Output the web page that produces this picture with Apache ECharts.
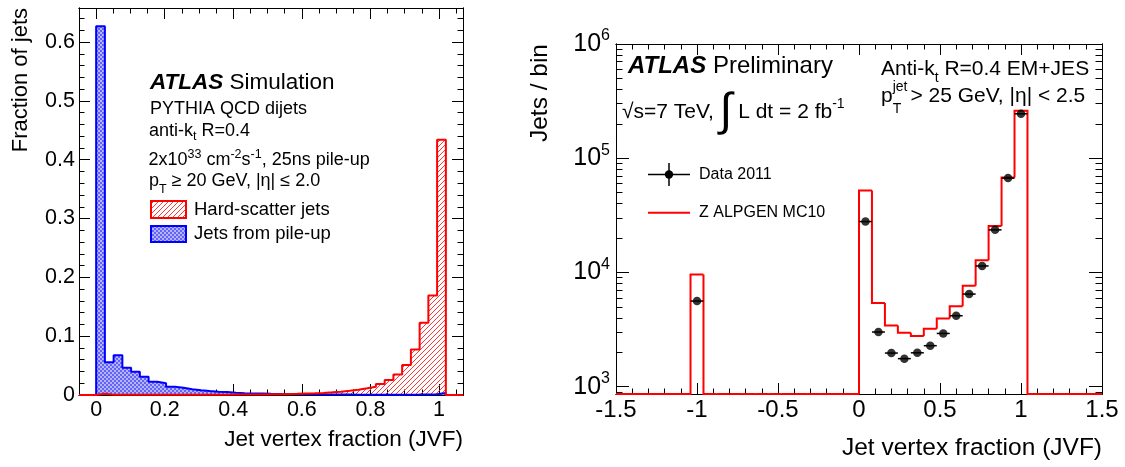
<!DOCTYPE html>
<html><head><meta charset="utf-8">
<script src="https://cdn.jsdelivr.net/npm/echarts@6/dist/echarts.min.js"></script>
<style>html,body{margin:0;padding:0;background:#fff}#c{width:1125px;height:467px}</style>
</head><body><div id="c"></div>
<script>
// ---------------- Left panel data: fraction of jets per JVF bin ----------------
const L_BIN_LO = 0;          // first bin low edge
const L_BIN_W = 0.0255;      // bin width (40 bins, 0 .. 1.02)
const L_PILEUP = [0.627, 0.0555, 0.0674, 0.0464, 0.0396, 0.031, 0.0226, 0.0198, 0.0141, 0.0124,
  0.0096, 0.008, 0.0068, 0.0057, 0.005, 0.004, 0.0031, 0.0027, 0.0024, 0.0021,
  0.0019, 0.0017, 0.0015, 0.0013, 0.0011, 0.001, 0.0009, 0.0008, 0.0007, 0.0006,
  0.0006, 0.0005, 0.0005, 0.0005, 0.0005, 0.0006, 0.0007, 0.0009, 0.0014, 0.0035];
const L_HARD = [0.0022, 0.0003, 0.0003, 0.0003, 0.0003, 0.0003, 0.0003, 0.0003, 0.0003, 0.0003,
  0.0003, 0.0004, 0.0005, 0.0005, 0.0006, 0.0007, 0.0008, 0.0009, 0.001, 0.0012,
  0.0014, 0.0017, 0.002, 0.0025, 0.003, 0.0036, 0.0045, 0.0057, 0.0073, 0.009,
  0.0113, 0.0141, 0.0187, 0.0255, 0.035, 0.051, 0.0775, 0.123, 0.169, 0.434];
const L_X_RANGE = [-0.05, 1.07];
const L_Y_RANGE = [0, 0.658];
const L_X_MAJOR = [0, 0.2, 0.4, 0.6, 0.8, 1];
const L_X_MINOR = [0.05, 0.1, 0.15, 0.25, 0.3, 0.35, 0.45, 0.5, 0.55, 0.65, 0.7, 0.75, 0.85, 0.9, 0.95, 1.05];
const L_Y_MAJOR = [0, 0.1, 0.2, 0.3, 0.4, 0.5, 0.6];
const L_Y_MINOR = [0.02, 0.04, 0.06, 0.08, 0.12, 0.14, 0.16, 0.18, 0.22, 0.24, 0.26, 0.28, 0.32, 0.34, 0.36, 0.38,
  0.42, 0.44, 0.46, 0.48, 0.52, 0.54, 0.56, 0.58, 0.62, 0.64];

// ---------------- Right panel data: jets per bin ----------------
const R_BIN_LO = -1.04;      // 26 bins of 0.08 from -1.04 to 1.04
const R_BIN_W = 0.08;
const R_MC = [9600, 0, 0, 0, 0, 0, 0, 0, 0, 0, 0, 0, 0,
  52100, 5400, 3440, 2970, 2775, 3215, 3960, 5050, 7650, 12800, 25500, 67800, 260000];
const R_DATA = [5620, 0, 0, 0, 0, 0, 0, 0, 0, 0, 0, 0, 0,
  27900, 3010, 1970, 1760, 1980, 2285, 2925, 4180, 6470, 11400, 23600, 67000, 245000];
const R_X_RANGE = [-1.5, 1.5];
const R_Y_RANGE = [863, 1e6];
const R_X_MAJOR = [-1.5, -1, -0.5, 0, 0.5, 1, 1.5];
const R_X_MINOR = [-1.4, -1.3, -1.2, -1.1, -0.9, -0.8, -0.7, -0.6, -0.4, -0.3, -0.2, -0.1,
  0.1, 0.2, 0.3, 0.4, 0.6, 0.7, 0.8, 0.9, 1.1, 1.2, 1.3, 1.4];
const R_Y_MAJOR = [1e3, 1e4, 1e5, 1e6];
const R_Y_MINOR = [900, 2e3, 3e3, 4e3, 5e3, 6e3, 7e3, 8e3, 9e3, 2e4, 3e4, 4e4, 5e4, 6e4, 7e4, 8e4, 9e4,
  2e5, 3e5, 4e5, 5e5, 6e5, 7e5, 8e5, 9e5];

// ---------------- styling helpers ----------------
const FONT = '"Liberation Sans", Arial, Helvetica, sans-serif';

function hatchPattern() {
  const c = document.createElement('canvas'); c.width = 5; c.height = 5;
  const g = c.getContext('2d');
  g.strokeStyle = '#ff2020'; g.lineWidth = 0.9;
  g.beginPath();
  g.moveTo(0, 5); g.lineTo(5, 0);
  g.moveTo(-1, 1); g.lineTo(1, -1);
  g.moveTo(4, 6); g.lineTo(6, 4);
  g.stroke();
  return { image: c, repeat: 'repeat' };
}
function checkPattern() {
  const c = document.createElement('canvas'); c.width = 4; c.height = 4;
  const g = c.getContext('2d');
  g.fillStyle = '#6464f4'; g.fillRect(0, 0, 4, 4);
  g.fillStyle = '#b4b4ff'; g.fillRect(0, 0, 2, 2); g.fillRect(2, 2, 2, 2);
  return { image: c, repeat: 'repeat' };
}
const RED_FILL = hatchPattern();
const BLUE_FILL = checkPattern();

function stepData(vals, lo, w, range) {
  const d = [[range[0], 0]];
  vals.forEach((v, i) => d.push([lo + i * w, v]));
  d.push([lo + vals.length * w, 0]);
  d.push([range[1], 0]);
  return d;
}

function axis(gridIndex, position, type, range, ticks, len, label) {
  const a = {
    type: type, gridIndex: gridIndex, position: position, min: range[0], max: range[1],
    axisLine: { show: true, onZero: false, lineStyle: { color: '#000', width: 1 } },
    axisTick: { show: true, inside: true, length: len, customValues: ticks, lineStyle: { color: '#000', width: 1 } },
    axisLabel: label ? Object.assign({ customValues: ticks, color: '#000', fontFamily: FONT }, label) : { show: false },
    splitLine: { show: false }, minorTick: { show: false }, minorSplitLine: { show: false },
    axisPointer: { show: false }
  };
  if (type === 'log') a.logBase = 10;
  return a;
}

function sup(fs, shift) { return { fontSize: fs, fontFamily: FONT, fill: '#000', padding: [0, 0, 2 * shift, 0] }; }
function sub(fs, shift) { return { fontSize: fs, fontFamily: FONT, fill: '#000', padding: [2 * shift, 0, 0, 0] }; }
function txt(x, y, text, fs, extra) {
  return {
    type: 'text', x: x, y: y, silent: true,
    style: Object.assign({
      text: text, fontSize: fs, fontFamily: FONT, fill: '#000',
      align: 'left', verticalAlign: 'middle', textAlign: 'left', textVerticalAlign: 'middle'
    }, extra || {})
  };
}
function measure(text, fs) {
  const g = document.createElement('canvas').getContext('2d');
  g.font = fs + 'px ' + FONT;
  return g.measureText(text).width;
}

// ---------------- chart ----------------
const chart = echarts.init(document.getElementById('c'), null, { renderer: 'canvas' });

const xAxes = [
  axis(0, 'bottom', 'value', L_X_RANGE, L_X_MAJOR, 11, { fontSize: 21.5, margin: 4 }),
  axis(0, 'bottom', 'value', L_X_RANGE, L_X_MINOR, 5.5, null),
  axis(0, 'top', 'value', L_X_RANGE, L_X_MAJOR, 11, null),
  axis(0, 'top', 'value', L_X_RANGE, L_X_MINOR, 5.5, null),
  axis(1, 'bottom', 'value', R_X_RANGE, R_X_MAJOR, 11, { fontSize: 24, margin: 4 }),
  axis(1, 'bottom', 'value', R_X_RANGE, R_X_MINOR, 5.5, null),
  axis(1, 'top', 'value', R_X_RANGE, R_X_MAJOR, 11, null),
  axis(1, 'top', 'value', R_X_RANGE, R_X_MINOR, 5.5, null)
];
const yAxes = [
  axis(0, 'left', 'value', L_Y_RANGE, L_Y_MAJOR, 11, { fontSize: 21.5, margin: 4 }),
  axis(0, 'left', 'value', L_Y_RANGE, L_Y_MINOR, 5.5, null),
  axis(0, 'right', 'value', L_Y_RANGE, L_Y_MAJOR, 11, null),
  axis(0, 'right', 'value', L_Y_RANGE, L_Y_MINOR, 5.5, null),
  axis(1, 'left', 'log', R_Y_RANGE, R_Y_MAJOR, 13, {
    margin: 6,
    formatter: v => '{b|10}{s|' + Math.round(Math.log10(v)) + '}',
    rich: {
      b: { fontSize: 25, fontFamily: FONT, color: '#000' },
      s: { fontSize: 16, fontFamily: FONT, color: '#000', padding: [0, 0, 16, 0] }
    }
  }),
  axis(1, 'left', 'log', R_Y_RANGE, R_Y_MINOR, 6.5, null),
  axis(1, 'right', 'log', R_Y_RANGE, R_Y_MAJOR, 13, null),
  axis(1, 'right', 'log', R_Y_RANGE, R_Y_MINOR, 6.5, null)
];

const binCenters = R_DATA.map((v, i) => R_BIN_LO + (i + 0.5) * R_BIN_W);
const dataPts = R_DATA.map((v, i) => [binCenters[i], v]).filter(p => p[1] > 0);
const dataBars = R_DATA.map((v, i) => [R_BIN_LO + i * R_BIN_W, R_BIN_LO + (i + 1) * R_BIN_W, v]).filter(p => p[2] > 0);
const mcBins = R_MC.map((v, i) => [R_BIN_LO + i * R_BIN_W, R_BIN_LO + (i + 1) * R_BIN_W, v, i > 0 ? R_MC[i - 1] : 0, i]);

const series = [
  {
    name: 'Jets from pile-up', type: 'line', xAxisIndex: 0, yAxisIndex: 0,
    step: 'end', symbol: 'none', animation: false, silent: true,
    data: stepData(L_PILEUP, L_BIN_LO, L_BIN_W, L_X_RANGE),
    lineStyle: { color: '#0000ff', width: 2 },
    areaStyle: { color: BLUE_FILL, opacity: 1 }
  },
  {
    name: 'Hard-scatter jets', type: 'line', xAxisIndex: 0, yAxisIndex: 0,
    step: 'end', symbol: 'none', animation: false, silent: true,
    data: stepData(L_HARD, L_BIN_LO, L_BIN_W, L_X_RANGE),
    lineStyle: { color: '#ff0000', width: 2 },
    areaStyle: { color: RED_FILL, opacity: 1 }
  },
  {
    name: 'Z ALPGEN MC10', type: 'custom', xAxisIndex: 4, yAxisIndex: 4,
    animation: false, silent: true, clip: false,
    dimensions: ['lo', 'hi', 'v', 'prev', 'idx'],
    encode: { x: [0, 1], y: [2] },
    data: mcBins,
    renderItem: (params, api) => {
      const cs = params.coordSys;
      const bottom = cs.y + cs.height;
      const yOf = v => v > 0 ? api.coord([0, v])[1] : bottom;
      const xl = api.coord([api.value(0), R_Y_RANGE[1]])[0];
      const xr = api.coord([api.value(1), R_Y_RANGE[1]])[0];
      const y = yOf(api.value(2)), yp = yOf(api.value(3));
      const i = api.value(4);
      const pts = [];
      if (i === 0) pts.push([cs.x, bottom]);
      pts.push([xl, yp], [xl, y], [xr, y]);
      if (i === R_MC.length - 1) pts.push([xr, bottom], [cs.x + cs.width, bottom]);
      return { type: 'polyline', shape: { points: pts }, style: { stroke: '#ff0000', lineWidth: 2, fill: null } };
    }
  },
  {
    name: 'Data 2011 err', type: 'custom', xAxisIndex: 4, yAxisIndex: 4,
    animation: false, silent: true,
    dimensions: ['lo', 'hi', 'v'], encode: { x: [0, 1], y: [2] },
    data: dataBars,
    renderItem: (params, api) => {
      const p0 = api.coord([api.value(0), api.value(2)]);
      const p1 = api.coord([api.value(1), api.value(2)]);
      return { type: 'line', shape: { x1: p0[0], y1: p0[1], x2: p1[0], y2: p1[1] }, style: { stroke: '#000', lineWidth: 1.5 } };
    }
  },
  {
    name: 'Data 2011', type: 'scatter', xAxisIndex: 4, yAxisIndex: 4,
    animation: false, silent: true, symbol: 'circle', symbolSize: 8.5,
    itemStyle: { color: '#000' }, data: dataPts
  }
];

// right panel p_T^jet stacked scripts
const PJ_X = 881, PJ_FS = 21;
const pW = measure('p', PJ_FS);
const jetW = measure('jet', 14);

const graphics = [
  // left panel texts
  txt(150, 83, '{bi|ATLAS} Simulation', 22.5, { rich: { bi: { fontSize: 22.5, fontFamily: FONT, fontWeight: 'bold', fontStyle: 'italic', fill: '#000' } } }),
  txt(150, 109, 'PYTHIA QCD dijets', 18),
  txt(149, 131, 'anti-k{t|t} R=0.4', 18, { rich: { t: sub(12.5, 6) } }),
  txt(148.5, 160.5, '2x10{s|33} cm{s|-2}s{s|-1}, 25ns pile-up', 18, { rich: { s: sup(12.5, 6) } }),
  txt(149, 181.5, 'p{t|T} ≥ 20 GeV, |η| ≤ 2.0', 18, { rich: { t: sub(12.5, 8) } }),
  { type: 'rect', silent: true, shape: { x: 151, y: 201, width: 35, height: 17 }, style: { fill: RED_FILL, stroke: '#ff0000', lineWidth: 2 } },
  { type: 'rect', silent: true, shape: { x: 151, y: 226, width: 35, height: 16 }, style: { fill: BLUE_FILL, stroke: '#0000ff', lineWidth: 2 } },
  txt(194, 209.5, 'Hard-scatter jets', 18.5),
  txt(194, 233.5, 'Jets from pile-up', 18.5),
  // left axis titles
  txt(21, 8, 'Fraction of jets', 22, { align: 'right', textAlign: 'right' }),
  txt(463, 440, 'Jet vertex fraction (JVF)', 22.5, { align: 'right', textAlign: 'right' }),

  // right panel texts
  txt(628, 66.5, '{bi|ATLAS} Preliminary', 24, { rich: { bi: { fontSize: 24, fontFamily: FONT, fontWeight: 'bold', fontStyle: 'italic', fill: '#000' } } }),
  txt(622, 112, '√s=7 TeV, {i|∫} L dt = 2 fb{s|-1}', 21, {
    rich: { i: { fontSize: 46, fontFamily: FONT, fill: '#000' }, s: sup(14, 8) }
  }),
  txt(PJ_X, 69.5, 'Anti-k{t|t} R=0.4 EM+JES', 21, { rich: { t: sub(14, 9) } }),
  txt(PJ_X, 96.5, 'p', PJ_FS),
  txt(PJ_X + pW, 87, 'jet', 14),
  txt(PJ_X + pW, 109.5, 'T', 14),
  txt(PJ_X + pW + jetW + 3, 96.5, '> 25 GeV, |η| < 2.5', PJ_FS),
  // right legend
  { type: 'line', silent: true, shape: { x1: 648, y1: 174.5, x2: 690, y2: 174.5 }, style: { stroke: '#000', lineWidth: 1.5 } },
  { type: 'line', silent: true, shape: { x1: 669, y1: 163, x2: 669, y2: 186 }, style: { stroke: '#000', lineWidth: 1.5 } },
  { type: 'circle', silent: true, shape: { cx: 669, cy: 174.5, r: 4.2 }, style: { fill: '#000' } },
  txt(699, 174.5, 'Data 2011', 16),
  { type: 'line', silent: true, shape: { x1: 648, y1: 212.7, x2: 690, y2: 212.7 }, style: { stroke: '#ff0000', lineWidth: 2 } },
  txt(699, 212.7, 'Z ALPGEN MC10', 16),
  // right axis titles
  txt(540, 44, 'Jets / bin', 24.5, { align: 'right', textAlign: 'right' }),
  txt(1102, 448, 'Jet vertex fraction (JVF)', 24.5, { align: 'right', textAlign: 'right' })
];
graphics[9].rotation = Math.PI / 2;
graphics[graphics.length - 2].rotation = Math.PI / 2;

chart.setOption({
  animation: false,
  backgroundColor: '#fff',
  grid: [
    { left: 79, top: 8, width: 384, height: 387, containLabel: false, outerBoundsMode: 'none' },
    { left: 616, top: 44, width: 486, height: 350, containLabel: false, outerBoundsMode: 'none' }
  ],
  xAxis: xAxes,
  yAxis: yAxes,
  series: series,
  graphic: graphics
});
</script>
</body></html>
